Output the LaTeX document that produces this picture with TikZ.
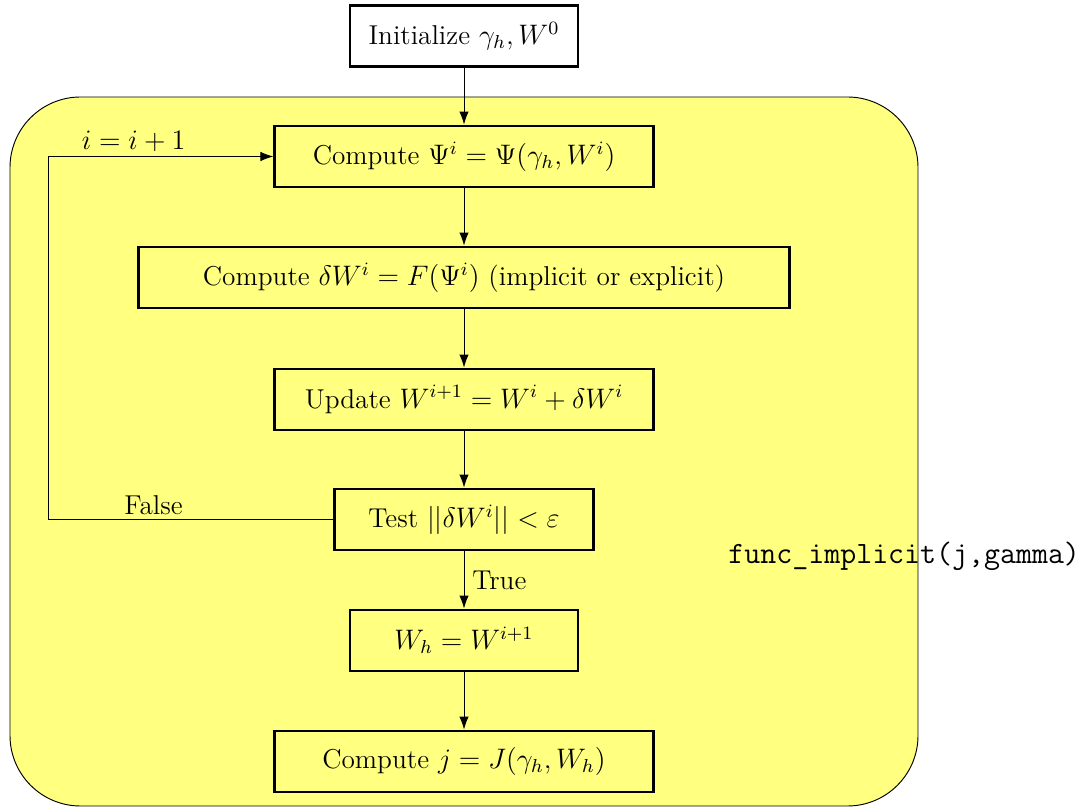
\documentclass[tikz,border=0pt]{standalone}
\usetikzlibrary{arrows.meta}
\definecolor{blockfill}{RGB}{255,255,128}
\begin{document}
\begin{tikzpicture}[x=0.4255pt, y=-0.4255pt,
  font=\fontsize{11.6}{13.9}\selectfont,
  stepbox/.style={draw, very thick, rectangle, minimum height=26pt, inner sep=6pt, align=center},
  flow/.style={-{Latex[length=5.5pt,width=4pt]}, thin},
  looplabel/.style={above, inner sep=2pt}]
  \useasboundingbox (0,0) rectangle (1086,808);
  % enclosing routine block
  \draw[fill=blockfill, rounded corners=30pt] (10,97) rectangle (918,806);
  % steps of the iteration
  \node[stepbox, minimum width=97pt] (init) at (464,36) {Initialize $\gamma_h, W^0$};
  \node[stepbox, minimum width=161pt] (psi) at (464,156.5) {Compute $\Psi^i=\Psi(\gamma_h,W^i)$};
  \node[stepbox, minimum width=277pt] (dw) at (464,277.5) {Compute $\delta W^i = F(\Psi^i)$ (implicit or explicit)};
  \node[stepbox, minimum width=161pt] (upd) at (464,399.5) {Update $W^{i+1}=W^i+\delta W^i$};
  \node[stepbox, minimum width=110pt] (test) at (464,519.5) {Test $||\delta W^i|| < \varepsilon$};
  \node[stepbox, minimum width=97pt] (wh) at (464,640.5) {$W_h = W^{i+1}$};
  \node[stepbox, minimum width=161pt] (cj) at (464,761.5) {Compute $j=J(\gamma_h,W_h)$};
  \node[font=\fontsize{13.2}{16}\selectfont\ttfamily, anchor=west, inner sep=0pt] (fname) at (728,556) {func\_implicit(j,gamma)};
  % connectors
  \draw[flow] (init) -- (psi);
  \draw[flow] (psi) -- (dw);
  \draw[flow] (dw) -- (upd);
  \draw[flow] (upd) -- (test);
  \draw[flow] (test) -- node[right] {True} (wh);
  \draw[flow] (wh) -- (cj);
  \coordinate (lb) at (48,519.5);
  \coordinate (lt) at (48,156.5);
  \draw[flow] (test.west) -- node[looplabel, pos=0.63] {False} (lb) -- (lt) -- node[looplabel, pos=0.38] {$i=i+1$} (psi.west);
\end{tikzpicture}
\end{document}
